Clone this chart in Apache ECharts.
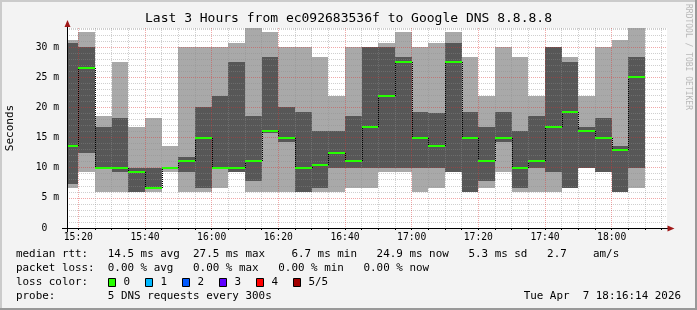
<!DOCTYPE html>
<html><head><meta charset="utf-8">
<script src="https://cdn.jsdelivr.net/npm/echarts@6/dist/echarts.min.js"></script>
<style>html,body{margin:0;padding:0;background:#f3f3f3}#c{width:697px;height:310px}</style>
</head><body><div id="c"></div>
<script>
// ---- data ----
const slotStart = ['15:15','15:20','15:25','15:30','15:35','15:40','15:45','15:50','15:55',
  '16:00','16:05','16:10','16:15','16:20','16:25','16:30','16:35','16:40','16:45','16:50','16:55',
  '17:00','17:05','17:10','17:15','17:20','17:25','17:30','17:35','17:40','17:45','17:50','17:55',
  '18:00','18:05'];
const pingMin = [6.7, 9.3, 6.0, 6.0, 6.0, 6.0, 9.3, 6.0, 6.0, 6.7, 9.3, 6.0, 6.0, 6.0, 6.0, 6.0, 6.0, 6.7,
  6.7, 9.3, 9.3, 6.0, 6.7, 9.3, 6.0, 6.7, 9.3, 6.0, 6.0, 6.0, 6.7, 10.0, 9.3, 6.0, 6.7];
const ping2 = [7.3, 12.5, 9.8, 9.3, 6.0, 6.7, 9.8, 9.3, 6.7, 9.7, 9.3, 7.8, 15.8, 14.3, 6.0, 6.7, 10.0, 10.0,
  10.0, 10.0, 10.0, 10.0, 10.0, 9.3, 6.0, 7.8, 14.3, 6.7, 10.0, 9.3, 6.7, 10.0, 9.3, 6.0, 10.0];
const median = [13.6, 26.5, 10.0, 10.0, 9.3, 6.7, 10.0, 11.1, 14.9, 10.0, 10.0, 11.1, 16.1, 14.9, 10.0, 10.4, 12.5, 11.1,
  16.8, 21.9, 27.5, 14.9, 13.6, 27.5, 14.9, 11.1, 14.9, 10.0, 11.1, 16.8, 19.2, 16.1, 14.9, 13.0, 25.0];
const ping4 = [30.6, 30.0, 16.8, 18.2, 10.0, 10.0, 10.1, 11.8, 20.0, 21.9, 27.5, 18.5, 28.4, 20.0, 19.2, 16.1, 16.1, 18.5,
  30.0, 30.0, 28.4, 19.2, 19.0, 30.7, 19.2, 16.8, 19.2, 16.1, 18.5, 30.0, 27.5, 16.8, 18.2, 13.6, 28.4];
const pingMax = [31.1, 32.5, 18.5, 27.5, 16.8, 18.2, 13.6, 30.0, 30.0, 30.0, 30.7, 33.2, 32.5, 30.0, 30.0, 28.4, 21.9, 30.0,
  30.0, 30.7, 32.5, 30.0, 30.7, 32.5, 28.4, 21.9, 30.0, 28.4, 21.9, 30.0, 28.4, 21.9, 30.0, 31.1, 33.2];
const xTickLabels = ['15:20','15:40','16:00','16:20','16:40','17:00','17:20','17:40','18:00'];
const yTickValues = [0, 5, 10, 15, 20, 25, 30];
const lossLabels = ['0', '1', '2', '3', '4', '5/5'];
const lossColors = ['#26ff00', '#00b8ff', '#0059ff', '#5e00ff', '#ff0000', '#a10000'];
const titleText = 'Last 3 Hours from ec092683536f to Google DNS 8.8.8.8';
const legendLine1 = 'median rtt:   14.5 ms avg  27.5 ms max    6.7 ms min   24.9 ms now   5.3 ms sd   2.7    am/s';
const legendLine2 = 'packet loss:  0.00 % avg   0.00 % max   0.00 % min   0.00 % now';
const legendLine3 = 'loss color:';
const legendLine4 = 'probe:        5 DNS requests every 300s';
const dateText = 'Tue Apr  7 18:16:14 2026';
const yName = 'Seconds';
const watermark = 'RRDTOOL / TOBI OETIKER';

// ---- build ----
const MONO = '"DejaVu Sans Mono", monospace';
const LEG_FONT = '10.9px ' + MONO;
const toMin = s => { const p = s.split(':').map(Number); return (p[0] - 15) * 60 + p[1]; };
const X_MIN = 16.6, X_MAX = 196.6, Y_MAX = 33.15;
const xTickValues = xTickLabels.map(toMin);
const gridTicks = [];
for (let t = 20; t < X_MAX; t += 5) gridTicks.push(t);
const smokeData = slotStart.map((s, i) => [toMin(s), toMin(s) + 5, pingMin[i], ping2[i], median[i], ping4[i], pingMax[i]]);
const medData = slotStart.map((s, i) => [toMin(s), toMin(s) + 5, median[i], i > 0 ? median[i - 1] : median[i]]);
const RED = 'rgba(222,48,48,0.42)';
const GRAY = 'rgba(140,140,140,0.42)';

function renderSmoke(params, api) {
  const x0 = api.value(0), x1 = api.value(1);
  const lo = api.coord([x0, api.value(2)]), hi = api.coord([x1, api.value(6)]);
  const dlo = api.coord([x0, api.value(3)]), dhi = api.coord([x1, api.value(5)]);
  const L = Math.round(lo[0]), R = Math.round(hi[0]);
  const r = (y) => Math.round(y);
  return { type: 'group', children: [
    { type: 'rect', shape: { x: L, y: r(hi[1]), width: R - L, height: r(lo[1]) - r(hi[1]) }, style: { fill: '#a9a9a9' } },
    { type: 'rect', shape: { x: L, y: r(dhi[1]), width: R - L, height: Math.max(0, r(dlo[1]) - r(dhi[1])) }, style: { fill: '#575757' } }
  ]};
}
function renderMedian(params, api) {
  const x0 = api.value(0), x1 = api.value(1);
  const a = api.coord([x0, api.value(2)]), b = api.coord([x1, api.value(2)]);
  const p = api.coord([x0, api.value(3)]);
  const L = Math.round(a[0]), R = Math.round(b[0]);
  const y = Math.round(a[1]), py = Math.round(p[1]);
  const children = [];
  if (py !== y) {
    children.push({ type: 'line', shape: { x1: L + 0.5, y1: py, x2: L + 0.5, y2: y },
      style: { stroke: '#000', lineWidth: 1, lineDash: [1, 1] } });
  }
  children.push({ type: 'line', shape: { x1: L, y1: y, x2: R, y2: y }, style: { stroke: lossColors[0], lineWidth: 2 } });
  return { type: 'group', children };
}

const graphics = [
  // frame shading
  { type: 'rect', shape: { x: 0, y: 0, width: 697, height: 2 }, style: { fill: '#cbcbcb' }, z: 10 },
  { type: 'rect', shape: { x: 0, y: 0, width: 2, height: 310 }, style: { fill: '#cbcbcb' }, z: 10 },
  { type: 'rect', shape: { x: 695, y: 0, width: 2, height: 310 }, style: { fill: '#999999' }, z: 10 },
  { type: 'rect', shape: { x: 0, y: 308, width: 697, height: 2 }, style: { fill: '#999999' }, z: 10 },
  // title
  { type: 'text', x: 348.5, y: 19, style: { text: titleText, font: '13px ' + MONO, fill: '#000', align: 'center', verticalAlign: 'middle' }, z: 10 },
  // watermark
  { type: 'text', x: 688, y: 4, rotation: -Math.PI / 2, style: { text: watermark, font: '8px ' + MONO, fill: '#b8b8b8', align: 'left', verticalAlign: 'middle' }, z: 10 },
  // y unit name
  { type: 'text', x: 10, y: 128, rotation: Math.PI / 2, style: { text: yName, font: '11px ' + MONO, fill: '#000', align: 'center', verticalAlign: 'middle' }, z: 10 },
  // axis extensions & arrows
  { type: 'line', shape: { x1: 62, y1: 228.5, x2: 668, y2: 228.5 }, style: { stroke: '#000', lineWidth: 1 }, z: 10 },
  { type: 'line', shape: { x1: 67.5, y1: 232, x2: 67.5, y2: 22 }, style: { stroke: '#000', lineWidth: 1 }, z: 10 },
  { type: 'polygon', shape: { points: [[67.5, 20], [64.5, 27], [70.5, 27]] }, style: { fill: '#a01818' }, z: 11 },
  { type: 'polygon', shape: { points: [[674.5, 228.5], [667.5, 225.5], [667.5, 231.5]] }, style: { fill: '#a01818' }, z: 11 },
  // legend
  { type: 'text', x: 16, y: 254.5, style: { text: legendLine1, font: LEG_FONT, fill: '#000', verticalAlign: 'middle' }, z: 10 },
  { type: 'text', x: 16, y: 268.5, style: { text: legendLine2, font: LEG_FONT, fill: '#000', verticalAlign: 'middle' }, z: 10 },
  { type: 'text', x: 16, y: 282.5, style: { text: legendLine3, font: LEG_FONT, fill: '#000', verticalAlign: 'middle' }, z: 10 },
  { type: 'text', x: 16, y: 296.5, style: { text: legendLine4, font: LEG_FONT, fill: '#000', verticalAlign: 'middle' }, z: 10 },
  { type: 'text', x: 681, y: 296.5, style: { text: dateText, font: LEG_FONT, fill: '#000', align: 'right', verticalAlign: 'middle' }, z: 10 }
];
const boxX = [108.5, 145.5, 182.5, 219.5, 256.5, 293.5];
lossLabels.forEach((lab, i) => {
  graphics.push({ type: 'rect', shape: { x: boxX[i], y: 278.5, width: 7, height: 8 }, style: { fill: lossColors[i], stroke: '#000', lineWidth: 1 }, z: 10 });
  graphics.push({ type: 'text', x: boxX[i] + 15, y: 282.5, style: { text: lab, font: LEG_FONT, fill: '#000', verticalAlign: 'middle' }, z: 10 });
});

const chart = echarts.init(document.getElementById('c'), null, { renderer: 'canvas', width: 697, height: 310 });
chart.setOption({
  animation: false,
  backgroundColor: '#f3f3f3',
  grid: { left: 67, top: 28, width: 600, height: 200, show: true, backgroundColor: '#ffffff', borderWidth: 0, containLabel: false },
  xAxis: {
    type: 'value', min: X_MIN, max: X_MAX, z: 3,
    axisLine: { show: false },
    axisTick: { show: true, customValues: gridTicks, length: 2, lineStyle: { color: '#000' } },
    axisLabel: { customValues: xTickValues, formatter: v => xTickLabels[xTickValues.indexOf(Math.round(v))] || '',
      fontFamily: MONO, fontSize: 9.7, color: '#000', margin: 4 },
    splitLine: { show: true, lineStyle: { color: [RED, GRAY, GRAY, GRAY], type: [1, 1], width: 1 } }
  },
  yAxis: {
    type: 'value', min: 0, max: Y_MAX, interval: 1, z: 3,
    axisLine: { show: false },
    axisTick: { show: false },
    axisLabel: { formatter: v => yTickValues.indexOf(v) < 0 ? '' : (v === 0 ? '0  ' : v + ' m'),
      fontFamily: MONO, fontSize: 9.7, color: '#000', margin: 8 },
    splitLine: { show: true, lineStyle: { color: [RED, GRAY, GRAY, GRAY, GRAY], type: [1, 1], width: 1 } }
  },
  series: [
    { type: 'custom', z: 1, clip: true, renderItem: renderSmoke, data: smokeData, silent: true },
    { type: 'custom', z: 5, clip: true, renderItem: renderMedian, data: medData, silent: true }
  ],
  graphic: graphics
});
</script></body></html>
